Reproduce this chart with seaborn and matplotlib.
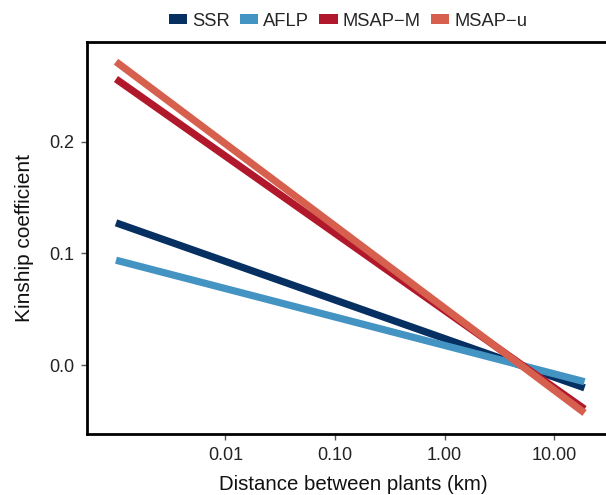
import matplotlib
matplotlib.use("Agg")
import matplotlib.pyplot as plt
import seaborn as sns
import pandas as pd
import numpy as np
from matplotlib.patches import Patch

markers = ["SSR", "AFLP", "MSAP\u2212M", "MSAP\u2212u"]
dist_km = [0.001, 19.0]
ssr = [0.1275, -0.0205]
aflp = [0.094, -0.0150]
msap_m = [0.2565, -0.0395]
msap_u = [0.272, -0.0430]
colors = ["#053061", "#4393c3", "#b2182b", "#d6604d"]
xticks = [0.01, 0.1, 1, 10]
xticklabels = ["0.01", "0.10", "1.00", "10.00"]
yticks = [0.0, 0.1, 0.2]
yticklabels = ["0.0", "0.1", "0.2"]

rows = []
for name, vals in zip(markers, [ssr, aflp, msap_m, msap_u]):
    for d, v in zip(dist_km, vals):
        rows.append({"marker": name, "dist": d, "kin": v})
df = pd.DataFrame(rows)

sns.set_style("white")
plt.rcParams["font.family"] = ["Liberation Sans", "DejaVu Sans"]

fig = plt.figure(figsize=(6.06, 4.95), dpi=100)
W, H = 606, 495
left, right, top, bottom = 87, 620, 42, 434
ax = fig.add_axes([left / W, 1 - bottom / H, (right - left) / W, (bottom - top) / H])

sns.lineplot(data=df, x="dist", y="kin", hue="marker", hue_order=markers,
             palette=colors, linewidth=5.2, ax=ax, legend=False,
             solid_capstyle="butt")

ax.set_xscale("log")
dec = 109.5
x10 = 554
ax.set_xlim(10 ** (1 + (left - x10) / dec), 10 ** (1 + (right - x10) / dec))
ax.set_ylim((365 - bottom) / 1115, (365 - top) / 1115)
ax.set_xticks(xticks)
ax.set_xticklabels(xticklabels)
ax.xaxis.set_minor_locator(matplotlib.ticker.NullLocator())
ax.set_yticks(yticks)
ax.set_yticklabels(yticklabels)

for s in ["left", "bottom", "top"]:
    ax.spines[s].set_visible(True)
    ax.spines[s].set_color("black")
    ax.spines[s].set_linewidth(2.0)
ax.spines["right"].set_visible(False)

ax.tick_params(axis="both", which="major", direction="out", length=4, width=1,
               color="#555555", labelsize=13, labelcolor="#222222", pad=5,
               bottom=True, left=True)

ax.set_xlabel("Distance between plants (km)", fontsize=14.7, color="#111111", labelpad=8)
ax.set_ylabel("Kinship coefficient", fontsize=15, color="#111111", labelpad=11)

handles = [Patch(facecolor=c, edgecolor="none") for c in colors]
fig.legend(handles, markers, loc="center", bbox_to_anchor=(348 / W, 1 - 21 / H),
           ncol=4, frameon=False, fontsize=13.2, handlelength=1.0, handleheight=0.44,
           handletextpad=0.28, columnspacing=0.55, borderaxespad=0, borderpad=0)

fig.savefig("out.png", dpi=100)
